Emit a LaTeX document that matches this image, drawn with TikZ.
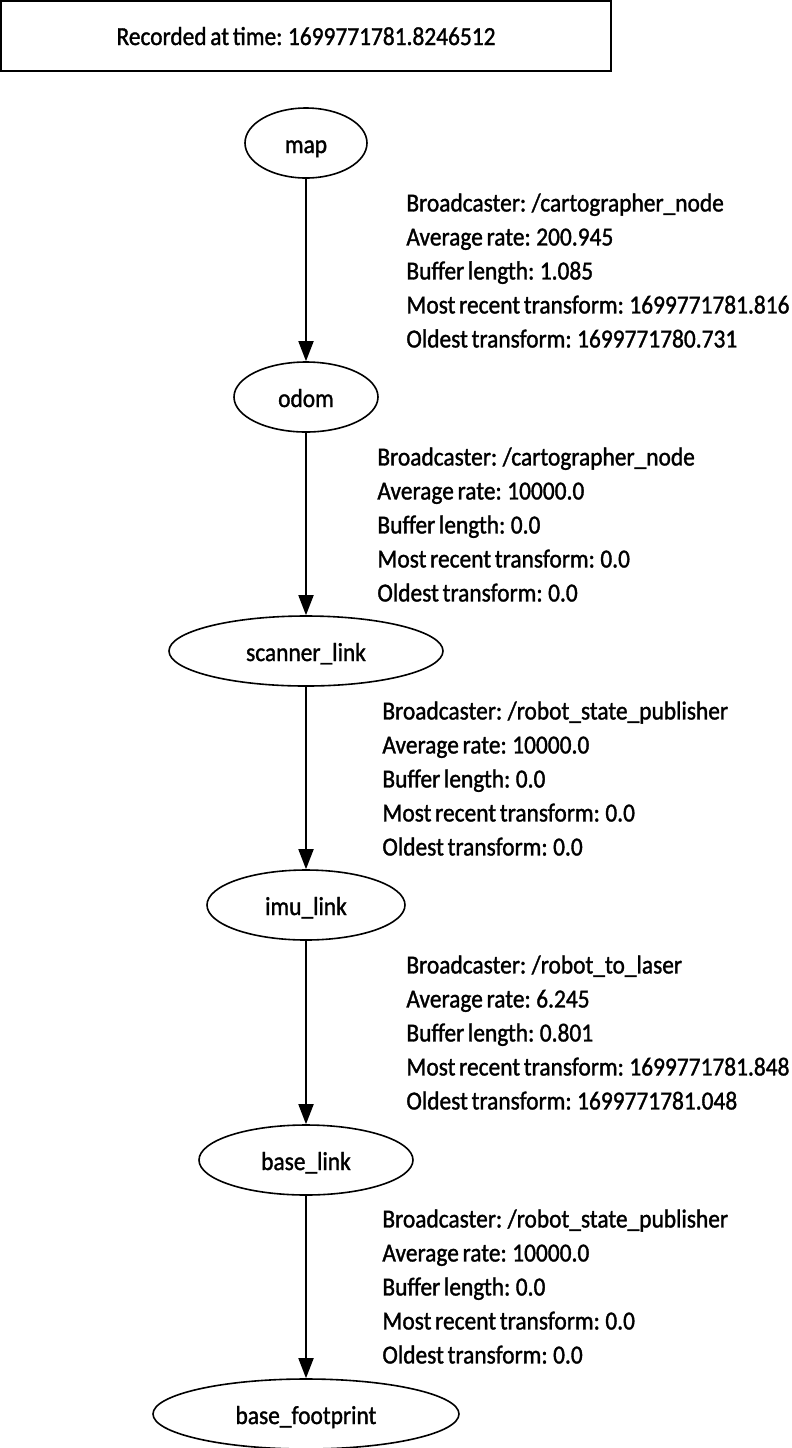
\documentclass[tikz,border=0pt]{standalone}
\usepackage{fontspec}
\setmainfont{Carlito}[FakeStretch=0.9,FakeBold=1.3,WordSpace=0.7]
\usetikzlibrary{shapes,arrows.meta}

\begin{document}
\begin{tikzpicture}[x=0.5pt,y=-0.5pt,
	frame/.style={draw,line width=1pt,inner sep=0pt,minimum width=305pt,minimum height=35pt,text height=9pt,text depth=0pt},
	frame node/.style={draw,ellipse,line width=0.8pt,inner sep=0pt,minimum height=35pt,text height=10pt,text depth=0pt},
	info/.style={anchor=north west,align=left,inner sep=0pt},
	link/.style={line width=0.9pt,-{Triangle[length=10pt,width=7.5pt]}},
	font=\fontsize{13}{17}\selectfont]
	\useasboundingbox (0,0) rectangle (792,1448);
	\node[frame] (stamp) at (306,36) {Recorded at time: 1699771781.8246512};
	
	\node[frame node,minimum width=61pt] (map) at (306,143) {map};
	\node[frame node,minimum width=72pt] (odom) at (306,397) {odom};
	\node[frame node,minimum width=137pt] (scanner) at (306,651) {scanner\_link};
	\node[frame node,minimum width=99pt] (imu) at (306,905) {imu\_link};
	\node[frame node,minimum width=107pt] (base) at (306,1160) {base\_link};
	\node[frame node,minimum width=153pt] (footprint) at (306,1414) {base\_footprint};
	
	\draw[link] (map) -- (odom);
	\draw[link] (odom) -- (scanner);
	\draw[link] (scanner) -- (imu);
	\draw[link] (imu) -- (base);
	\draw[link] (base) -- (footprint);
	
	\node[info] (info map) at (406,193) {Broadcaster: /cartographer\_node\\Average rate: 200.945\\Buffer length: 1.085\\Most recent transform: 1699771781.816\\Oldest transform: 1699771780.731};
	\node[info] (info odom) at (377,447) {Broadcaster: /cartographer\_node\\Average rate: 10000.0\\Buffer length: 0.0\\Most recent transform: 0.0\\Oldest transform: 0.0};
	\node[info] (info scanner) at (382,701) {Broadcaster: /robot\_state\_publisher\\Average rate: 10000.0\\Buffer length: 0.0\\Most recent transform: 0.0\\Oldest transform: 0.0};
	\node[info] (info imu) at (406,955) {Broadcaster: /robot\_to\_laser\\Average rate: 6.245\\Buffer length: 0.801\\Most recent transform: 1699771781.848\\Oldest transform: 1699771781.048};
	\node[info] (info base) at (382,1209) {Broadcaster: /robot\_state\_publisher\\Average rate: 10000.0\\Buffer length: 0.0\\Most recent transform: 0.0\\Oldest transform: 0.0};
\end{tikzpicture}
\end{document}
